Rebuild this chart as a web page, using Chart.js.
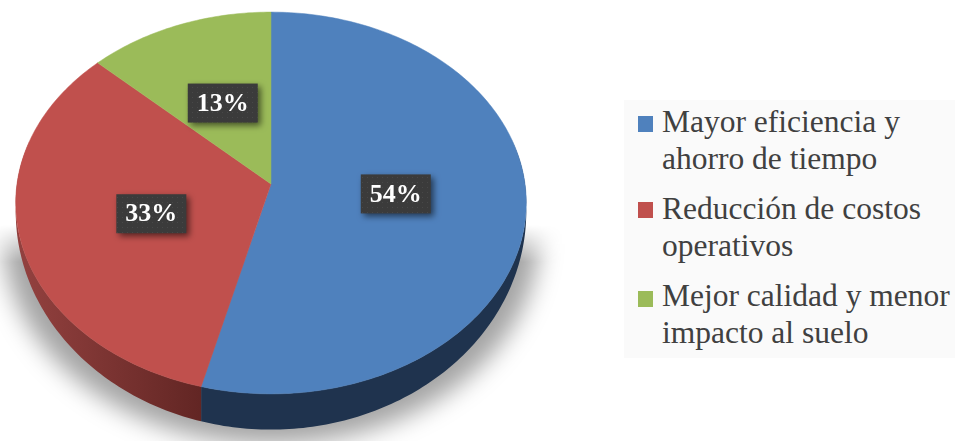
<!DOCTYPE html>
<html lang="es">
<head>
<meta charset="utf-8">
<title>Beneficios</title>
<script src="https://cdn.jsdelivr.net/npm/chart.js@4/dist/chart.umd.js"></script>
<style>
  html, body { margin: 0; padding: 0; background: #fff; overflow: hidden; }
  #wrap { position: relative; width: 955px; height: 441px; }
  #pieChart { position: absolute; left: 0; top: 0; }
  #legend {
    position: absolute; left: 624px; top: 100px; width: 331px; height: 258px;
    background: #fafafa;
    font-family: "Liberation Serif", serif; font-size: 31.5px; color: #404040;
  }
  #legend .swatch { position: absolute; left: 14px; width: 15px; height: 16px; }
  #legend .line { position: absolute; left: 38px; white-space: nowrap; line-height: 36px; }
</style>
</head>
<body>
<div id="wrap">
  <canvas id="pieChart" width="955" height="441"></canvas>
  <div id="legend"></div>
</div>
<script>
// Chart data
const categories = [
  ['Mayor eficiencia y', 'ahorro de tiempo'],
  ['Reducción de costos', 'operativos'],
  ['Mejor calidad y menor', 'impacto al suelo']
];
const shares = [54, 33, 13];
const topColors = ['#4f81bd', '#c0504d', '#9bbb59'];

// Tilted disc geometry: apex, radii and perspective of the top face
const view = { x: 271, y: 184, a: 254, b: 189, k: 0.0995 };
// The lower rim is the top rim stretched downwards
const rim = { scale: 1.141, shift: -19.8 };

// Unit disc position to screen, angle in chart.js radians
function project(angle, r) {
  const ux = Math.cos(angle) * r;
  const uy = Math.sin(angle) * r;
  const w = 1 - view.k * uy;
  return { x: view.x + view.a * ux / w, y: view.y + view.b * uy / w };
}

function sampleArc(start, end) {
  const steps = Math.max(8, Math.ceil((end - start) * 60));
  const pts = [];
  for (let i = 0; i <= steps; i++) {
    pts.push(project(start + (end - start) * i / steps, 1));
  }
  return pts;
}

// Soft shadow under the disc, faded out towards its upper half
function drawShadow(ctx) {
  const layer = document.createElement('canvas');
  layer.width = ctx.canvas.width;
  layer.height = ctx.canvas.height;
  const s = layer.getContext('2d');

  // only the blur lands on the layer, the ellipse itself stays off it
  s.shadowColor = 'rgba(0, 0, 0, 0.36)';
  s.shadowBlur = 24;
  s.shadowOffsetX = 2000;
  s.beginPath();
  s.ellipse(271 - 2000, 236, 268, 208, 0, 0, Math.PI * 2);
  s.fill();

  s.shadowColor = 'transparent';
  s.shadowOffsetX = 0;
  const fade = s.createLinearGradient(0, 225, 0, 262);
  fade.addColorStop(0, 'rgba(0, 0, 0, 0)');
  fade.addColorStop(1, 'rgba(0, 0, 0, 1)');
  s.globalCompositeOperation = 'destination-in';
  s.fillStyle = fade;
  s.fillRect(0, 0, layer.width, layer.height);

  ctx.drawImage(layer, 0, 0);
}

// Side wall of one slice
function drawWall(ctx, arc, fill) {
  const top = sampleArc(arc.startAngle, arc.endAngle);
  const low = top.map(p => ({ x: p.x, y: Math.max(p.y, p.y * rim.scale + rim.shift) }));
  ctx.fillStyle = fill;
  ctx.beginPath();
  top.forEach((p, i) => (i ? ctx.lineTo(p.x, p.y) : ctx.moveTo(p.x, p.y)));
  low.reverse().forEach(p => ctx.lineTo(p.x, p.y));
  ctx.closePath();
  ctx.fill();
}

function drawFace(ctx, arc, fill) {
  const apex = project(0, 0);
  ctx.fillStyle = fill;
  ctx.strokeStyle = fill;
  ctx.lineWidth = 0.5;
  ctx.beginPath();
  ctx.moveTo(apex.x, apex.y);
  sampleArc(arc.startAngle, arc.endAngle).forEach(p => ctx.lineTo(p.x, p.y));
  ctx.closePath();
  ctx.fill();
  ctx.stroke();
}

// Dark speckled tile for the value boxes
function boxPattern(ctx) {
  const tile = document.createElement('canvas');
  tile.width = 5;
  tile.height = 5;
  const t = tile.getContext('2d');
  t.fillStyle = '#3b3b3b';
  t.fillRect(0, 0, 5, 5);
  t.fillStyle = '#484848';
  t.fillRect(2, 2, 1, 1);
  return ctx.createPattern(tile, 'repeat');
}

// Small hand offsets for the value boxes
const labelNudge = [[-2, -2], [4, 3], [0, 2]];

function drawValueLabel(ctx, arc, text, pattern, nudge) {
  const mid = (arc.startAngle + arc.endAngle) / 2;
  const p = project(mid, 0.5);
  const cx = p.x + nudge[0];
  const cy = p.y + nudge[1];
  const w = 70, h = 39;
  ctx.save();
  ctx.shadowColor = 'rgba(0, 0, 0, 0.55)';
  ctx.shadowBlur = 6;
  ctx.shadowOffsetX = 3;
  ctx.shadowOffsetY = 3;
  ctx.fillStyle = pattern;
  ctx.fillRect(cx - w / 2, cy - h / 2, w, h);
  ctx.restore();

  ctx.save();
  ctx.font = 'bold 26px "Liberation Serif", serif';
  ctx.textAlign = 'center';
  ctx.textBaseline = 'middle';
  ctx.fillStyle = '#ffffff';
  ctx.fillText(text, cx, cy + 1);
  ctx.restore();
}

// Replaces the flat arcs with the tilted disc, using the angles chart.js computed
const tiltedPie = {
  id: 'tiltedPie',
  beforeDatasetsDraw(chart) {
    const ctx = chart.ctx;
    const arcs = chart.getDatasetMeta(0).data;

    const redWall = ctx.createLinearGradient(27, 0, 213, 0);
    redWall.addColorStop(0, '#91403e');
    redWall.addColorStop(1, '#5f2422');

    drawShadow(ctx);
    drawWall(ctx, arcs[0], '#1f334e');
    drawWall(ctx, arcs[1], redWall);
    arcs.forEach((arc, i) => drawFace(ctx, arc, topColors[i]));

    const pattern = boxPattern(ctx);
    arcs.forEach((arc, i) => drawValueLabel(ctx, arc, shares[i] + '%', pattern, labelNudge[i]));
    return false;
  }
};

const chart = new Chart(document.getElementById('pieChart'), {
  type: 'pie',
  data: {
    labels: categories,
    datasets: [{ data: shares, backgroundColor: topColors, borderWidth: 0 }]
  },
  options: {
    responsive: false,
    animation: false,
    plugins: {
      legend: { display: false },
      tooltip: { enabled: false }
    }
  },
  plugins: [tiltedPie]
});

// HTML legend built from the chart's labels and colours
const legendBox = document.getElementById('legend');
const swatchTops = [16, 102, 191];
const lineTops = [[4, 41], [91, 128], [178, 215]];
chart.data.labels.forEach((lines, i) => {
  const swatch = document.createElement('div');
  swatch.className = 'swatch';
  swatch.style.top = swatchTops[i] + 'px';
  swatch.style.background = topColors[i];
  legendBox.appendChild(swatch);
  lines.forEach((line, j) => {
    const row = document.createElement('div');
    row.className = 'line';
    row.style.top = lineTops[i][j] + 'px';
    row.textContent = line;
    legendBox.appendChild(row);
  });
});
</script>
</body>
</html>
